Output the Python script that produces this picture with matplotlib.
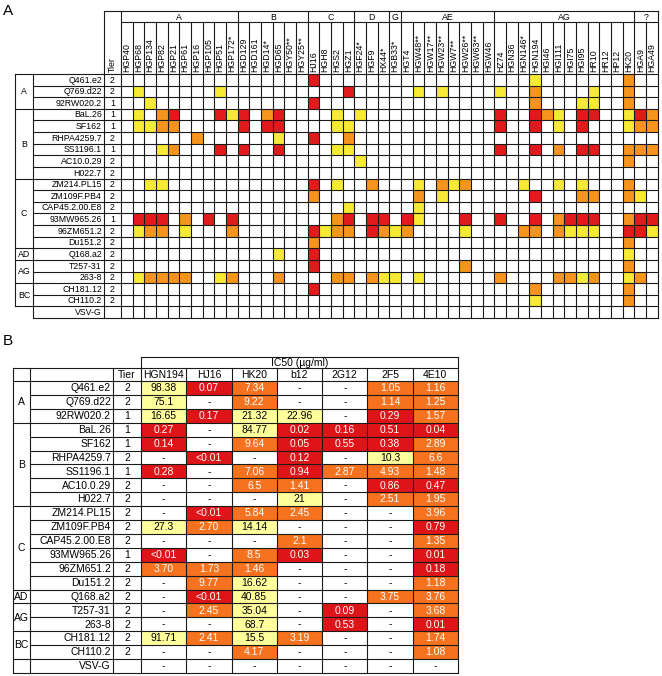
import matplotlib
matplotlib.use('Agg')
import matplotlib.pyplot as plt
from matplotlib.patches import Rectangle

plt.rcParams['font.family'] = ['Liberation Sans', 'DejaVu Sans']

# ---- data ----
strains = ['Q461.e2', 'Q769.d22', '92RW020.2', 'BaL.26', 'SF162', 'RHPA4259.7', 'SS1196.1',
           'AC10.0.29', 'H022.7', 'ZM214.PL15', 'ZM109F.PB4', 'CAP45.2.00.E8', '93MW965.26',
           '96ZM651.2', 'Du151.2', 'Q168.a2', 'T257-31', '263-8', 'CH181.12', 'CH110.2', 'VSV-G']
tiers = ['2', '2', '1', '1', '1', '2', '1', '2', '2', '2', '2', '2', '1', '2', '2', '2', '2', '2', '2', '2', '']
clade_names = ['A', 'B', 'C', 'AD', 'AG', 'BC']
clade_sizes = [3, 6, 6, 1, 2, 2]

mab_groups = ['A', 'B', 'C', 'D', 'G', 'AE', 'AG', '?']
mab_group_sizes = [10, 6, 4, 3, 1, 8, 12, 2]
mabs_a = ['HGP40', 'HGP68', 'HGP134', 'HGP82', 'HGP21', 'HGP61', 'HGP16', 'HGP105', 'HGP51', 'HGP172*',
          'HGD129', 'HGD161', 'HGD14*', 'HGD65', 'HGY50**', 'HGY25**',
          'HJ16', 'HGH8', 'HGS2', 'HGZ1',
          'HGF24*', 'HGF9', 'HX44*',
          'HGB33*',
          'HGT4', 'HGW48**', 'HGW17**', 'HGW23**', 'HGW7**', 'HGW26**', 'HGW63**', 'HGW46',
          'HZ74', 'HGN36', 'HGN146*', 'HGN194', 'HGI46', 'HGI111', 'HGI75', 'HGI95', 'HR10', 'HR12', 'HP12', 'HK20',
          'HGA9', 'HGA49']

# neutralization level per cell, blocks follow mab_groups (r=strong, o=medium, y=weak, .=none)
neut_a = [
    '.......... ...... r... ... . ........ ...y.......o ..',
    '.y......y. ...... ...r ... . .y.y.... y..o....y..o ..',
    '..y....... ...... r... ... . ........ ...o...yy..o ..',
    '.y.or...ry r.or.. ..y. y.. . ........ r..roy.rr..y ro',
    '.yyoo..... r.rr.. ..yy ... . ........ r..r.y.r...y oo',
    '......o... ...y.. r..o ... . ........ ............ ..',
    '...yo...r. r..r.. ..yy ... . ........ r..r.o.rr..o oo',
    '.......... ...... .... y.. . ........ ...........o ..',
    '.......... ...... .... ... . ........ ............ ..',
    '..yy...... ...... r.y. .o. . .y.oyo.. ..y..y.y...o ..',
    '.......... ...... o... ... . .o.y.... ...r...oo..o y.',
    '.......... ...... ...y ... . .y...... ............ ..',
    '.rrr.o.r.r ...... ..or .rr . ry...r.. r..r.orrr..o rr',
    '.yoo.y...o ...... ryoo .ro y o....y.. ..oo.oyyy..r ry',
    '.......... ...... o... ... . ........ ...........o ..',
    '.......... ...y.. r... ... . ........ ...........y ..',
    '.......... ...... r... ... . .....o.. ...........o ..',
    '.yoooo..yo ...o.. ..oo .oy y .y...... o....ooyo..y o.',
    '.......... ...... r... ... . ........ ...o.......o ..',
    '.......... ...... .... ... . ........ ...y.......o ..',
    '.......... ...... .... ... . ........ ............ ..',
]

mabs_b = ['HGN194', 'HJ16', 'HK20', 'b12', '2G12', '2F5', '4E10']
ic50 = [
    ['98.38', '0.07', '7.34', '-', '-', '1.05', '1.16'],
    ['75.1', '-', '9.22', '-', '-', '1.14', '1.25'],
    ['16.65', '0.17', '21.32', '22.96', '-', '0.29', '1.57'],
    ['0.27', '-', '84.77', '0.02', '0.16', '0.51', '0.04'],
    ['0.14', '-', '9.64', '0.05', '0.55', '0.38', '2.89'],
    ['-', '<0.01', '-', '0.12', '-', '10.3', '6.6'],
    ['0.28', '-', '7.06', '0.94', '2.87', '4.93', '1.48'],
    ['-', '-', '6.5', '1.41', '-', '0.86', '0.47'],
    ['-', '-', '-', '21', '-', '2.51', '1.95'],
    ['-', '<0.01', '5.84', '2.45', '-', '-', '3.96'],
    ['27.3', '2.70', '14.14', '-', '-', '-', '0.79'],
    ['-', '-', '-', '2.1', '-', '-', '1.35'],
    ['<0.01', '-', '8.5', '0.03', '-', '-', '0.01'],
    ['3.70', '1.73', '1.46', '-', '-', '-', '0.18'],
    ['-', '9.77', '16.62', '-', '-', '-', '1.18'],
    ['-', '<0.01', '40.85', '-', '-', '3.75', '3.76'],
    ['-', '2.45', '35.04', '-', '0.09', '-', '3.68'],
    ['-', '-', '68.7', '-', '0.53', '-', '0.01'],
    ['91.71', '2.41', '15.5', '3.19', '-', '-', '1.74'],
    ['-', '-', '4.17', '-', '-', '-', '1.08'],
    ['-', '-', '-', '-', '-', '-', '-'],
]

colors_a = {'r': '#e31a1c', 'o': '#f7941d', 'y': '#f7ea35'}
colors_b = {'r': '#df1418', 'o': '#f7721e', 'y': '#ffff9c'}
LC = '#1a1a1a'
LW = 0.8


def level_b(s):
    if s == '-':
        return None
    if s.startswith('<'):
        return 'r'
    v = float(s)
    if v < 1:
        return 'r'
    if v < 10:
        return 'o'
    return 'y'


fig = plt.figure(figsize=(6.62, 6.76), dpi=100)
ax = fig.add_axes([0, 0, 1, 1])
ax.set_xlim(0, 662)
ax.set_ylim(676, 0)
ax.axis('off')

nrow = len(strains)
group_starts = [0]
for s in clade_sizes:
    group_starts.append(group_starts[-1] + s)

# ================= panel A =================
ax.text(3, 4, 'A', fontsize=11, va='top', ha='left')
xc, xn, xt, x0 = 15, 33, 104, 121
cw = 11.67
y_top, y_grp, y0 = 11, 22, 74
rh = 11.62
ncol = len(mabs_a)
x_end = x0 + ncol * cw
y_end = y0 + nrow * rh
fs_a = 6.3

grid = [r.replace(' ', '') for r in neut_a]
for i, row in enumerate(grid):
    for j, c in enumerate(row):
        if c in colors_a:
            ax.add_patch(Rectangle((x0 + j * cw, y0 + i * rh), cw, rh, facecolor=colors_a[c],
                                   edgecolor='none', zorder=1))

# headers
ax.text((xt + x0) / 2, y0 - 2, 'Tier', rotation=90, ha='center', va='bottom', fontsize=fs_a)
for j, m in enumerate(mabs_a):
    ax.text(x0 + (j + 0.5) * cw, y0 - 2, m, rotation=90, ha='center', va='bottom', fontsize=fs_a)
gstart = 0
gb = [0]
for g, n in zip(mab_groups, mab_group_sizes):
    ax.text(x0 + (gstart + n / 2) * cw, (y_top + y_grp) / 2 + 0.5, g, ha='center', va='center',
            fontsize=fs_a)
    gstart += n
    gb.append(gstart)

for i, s in enumerate(strains):
    yc = y0 + (i + 0.5) * rh + 0.3
    ax.text(xt - 2, yc, s, ha='right', va='center', fontsize=fs_a)
    ax.text((xt + x0) / 2, yc, tiers[i], ha='center', va='center', fontsize=fs_a)
for k, (c, n) in enumerate(zip(clade_names, clade_sizes)):
    yc = y0 + (group_starts[k] + n / 2) * rh + 0.3
    ax.text((xc + xn) / 2, yc, c, ha='center', va='center', fontsize=fs_a)

# grid lines
ax.plot([xt, x_end], [y_top, y_top], color=LC, lw=LW)
ax.plot([x0, x_end], [y_grp, y_grp], color=LC, lw=LW)
for k in range(nrow + 1):
    yy = y0 + k * rh
    left = xc if (k in group_starts) else xn
    if k == nrow:
        left = xn
    ax.plot([left, x_end], [yy, yy], color=LC, lw=LW)
ax.plot([xc, xc], [y0, y0 + group_starts[-1] * rh], color=LC, lw=LW)
ax.plot([xn, xn], [y0, y_end], color=LC, lw=LW)
ax.plot([xt, xt], [y_top, y_end], color=LC, lw=LW)
for j in range(ncol + 1):
    xx = x0 + j * cw
    top = y_top if j in gb else y_grp
    ax.plot([xx, xx], [top, y_end], color=LC, lw=LW)

# ================= panel B =================
ax.text(3, 334, 'B', fontsize=11, va='top', ha='left')
bc, bn, bt, b0 = 13, 30, 113, 141
bw = (458 - 141) / 7
by_title, by_head, by0 = 357, 368, 381
brh = 13.9
bx_end = b0 + len(mabs_b) * bw
by_end = by0 + nrow * brh
fs_b = 7.5

for i, row in enumerate(ic50):
    for j, s in enumerate(row):
        lv = level_b(s)
        xcen = b0 + (j + 0.5) * bw
        ycen = by0 + (i + 0.5) * brh + 0.3
        if lv is not None:
            ax.add_patch(Rectangle((b0 + j * bw, by0 + i * brh), bw, brh, facecolor=colors_b[lv],
                                   edgecolor='none', zorder=1))
        tc = 'white' if lv in ('r', 'o') else 'black'
        ax.text(xcen, ycen, s, ha='center', va='center', fontsize=fs_b, color=tc, zorder=3)

ax.text((b0 + bx_end) / 2, (by_title + by_head) / 2 + 0.3, 'IC50 (µg/ml)', ha='center',
        va='center', fontsize=fs_b)
ax.text((bt + b0) / 2, (by_head + by0) / 2 + 0.3, 'Tier', ha='center', va='center', fontsize=fs_b)
for j, m in enumerate(mabs_b):
    ax.text(b0 + (j + 0.5) * bw, (by_head + by0) / 2 + 0.3, m, ha='center', va='center', fontsize=fs_b)
for i, s in enumerate(strains):
    yc = by0 + (i + 0.5) * brh + 0.3
    ax.text(bt - 2, yc, s, ha='right', va='center', fontsize=fs_b)
    ax.text((bt + b0) / 2, yc, tiers[i], ha='center', va='center', fontsize=fs_b)
for k, (c, n) in enumerate(zip(clade_names, clade_sizes)):
    yc = by0 + (group_starts[k] + n / 2) * brh + 0.3
    ax.text((bc + bn) / 2, yc, c, ha='center', va='center', fontsize=fs_b)

ax.plot([b0, bx_end], [by_title, by_title], color=LC, lw=LW)
ax.plot([bc, bx_end], [by_head, by_head], color=LC, lw=LW)
for k in range(nrow + 1):
    yy = by0 + k * brh
    left = bc if (k in group_starts or k == nrow) else bn
    ax.plot([left, bx_end], [yy, yy], color=LC, lw=LW)
ax.plot([bc, bc], [by_head, by_end], color=LC, lw=LW)
ax.plot([bn, bn], [by_head, by_end], color=LC, lw=LW)
ax.plot([bt, bt], [by_head, by_end], color=LC, lw=LW)
for j in range(len(mabs_b) + 1):
    xx = b0 + j * bw
    top = by_title if j in (0, len(mabs_b)) else by_head
    ax.plot([xx, xx], [top, by_end], color=LC, lw=LW)

fig.savefig('out.png', dpi=100)
